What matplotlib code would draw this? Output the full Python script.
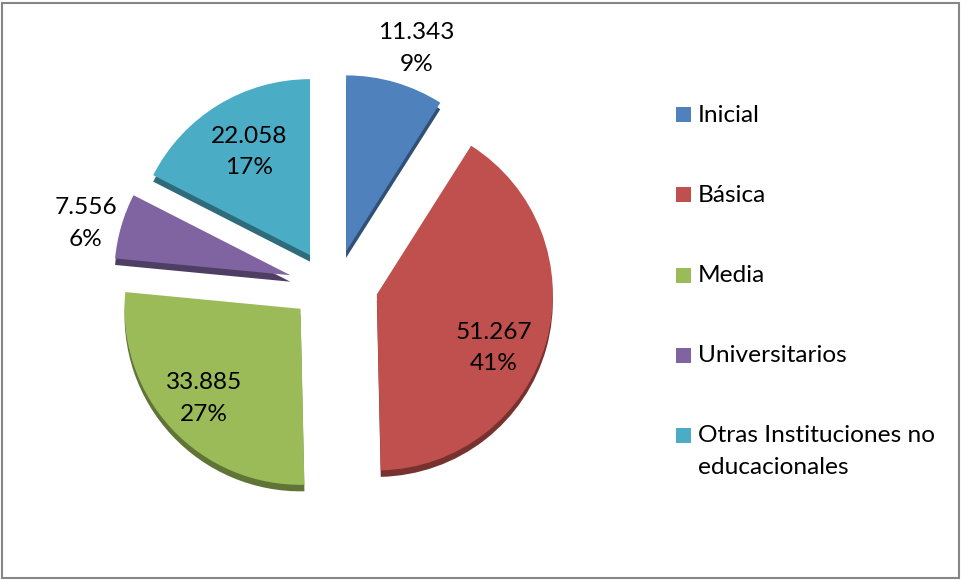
import numpy as np
import matplotlib.pyplot as plt
from matplotlib.patches import Wedge, Rectangle
from matplotlib.colors import to_rgb

# ========================================================================
# Data
# ========================================================================
categories = [
    "Inicial",
    "Básica",
    "Media",
    "Universitarios",
    "Otras Instituciones no\neducacionales",
]
values = [11343, 51267, 33885, 7556, 22058]
colors = ["#4F81BD", "#C0504D", "#9BBB59", "#8064A2", "#4BACC6"]

# ========================================================================
# Layout (pixels)
# ========================================================================
W, H = 961, 580
cx, cy = 333.5, 285.0
radius = 176.0
explode_x, explode_y = 45.0, 35.0
depth = 6.5
label_frac = [1.22, 0.73, 0.75, 1.20, 0.68]
label_dang = [-3, -9, 0, 2, -1]
fs = 17.6
lsp = 1.62

plt.rcParams["font.family"] = ["Lato", "DejaVu Sans"]

fig = plt.figure(figsize=(W / 100, H / 100), dpi=100)
ax = fig.add_axes([0, 0, 1, 1])
ax.set_xlim(0, W)
ax.set_ylim(H, 0)
ax.axis("off")

total = float(sum(values))
angles = np.array(values) / total * 360.0
start = 90.0

for i, v in enumerate(values):
    a1 = start                # visual angle, y up
    a2 = start - angles[i]    # clockwise
    start = a2
    mid = np.deg2rad(0.5 * (a1 + a2))
    ox = cx + explode_x * np.cos(mid)
    oy = cy - explode_y * np.sin(mid)

    base = np.array(to_rgb(colors[i]))
    side = base * 0.62
    # data y is inverted, so flip the angles
    ax.add_patch(Wedge((ox, oy + depth), radius, -a1, -a2, fc=side, ec="none", zorder=1))
    ax.add_patch(Wedge((ox, oy), radius, -a1, -a2, fc=base, ec="none", zorder=2))

    # data label
    pct = int(round(v / total * 100))
    txt = "{:,}".format(v).replace(",", ".") + "\n{}%".format(pct)
    la = mid + np.deg2rad(label_dang[i])
    lr = radius * label_frac[i]
    ax.text(
        ox + lr * np.cos(la),
        oy - lr * np.sin(la),
        txt,
        ha="center",
        va="center",
        fontsize=fs,
        linespacing=lsp,
        color="black",
        zorder=5,
    )

# legend drawn by hand so the square sits on the first line
leg_x, leg_y0, leg_dy, sq = 676, 114.5, 80.25, 15
for i, lab in enumerate(categories):
    y = leg_y0 + i * leg_dy
    ax.add_patch(Rectangle((leg_x, y - sq / 2), sq, sq, fc=colors[i], ec="none"))
    ax.text(leg_x + 22, y - 10, lab, ha="left", va="top", fontsize=fs,
            linespacing=lsp, color="black")

# chart frame
ax.add_patch(Rectangle((1.5, 3), W - 4, H - 5, fill=False, ec="#868686", lw=1.5))

fig.savefig("out.png", dpi=100)
